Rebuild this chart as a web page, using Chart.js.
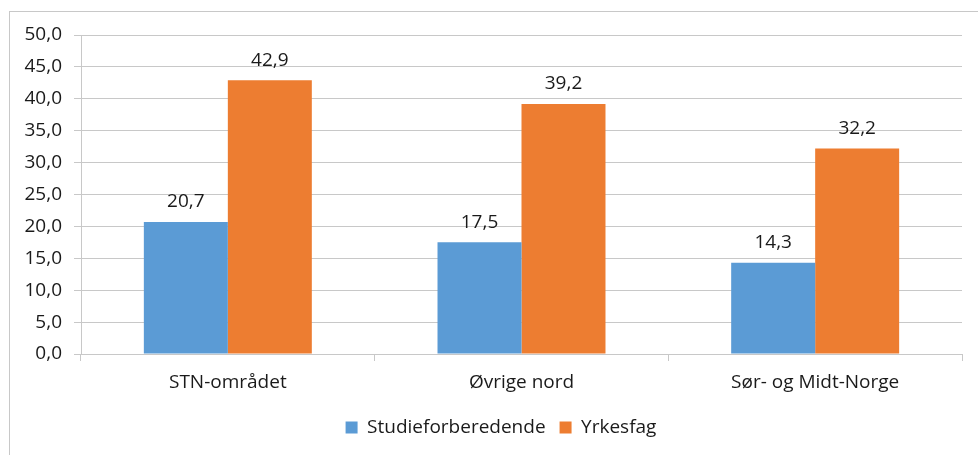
<!DOCTYPE html>
<html>
<head>
<meta charset="utf-8">
<script src="https://cdn.jsdelivr.net/npm/chart.js@4"></script>
<style>
  body { margin: 0; background: #fff; overflow: hidden; }
  #frame { position: absolute; left: 9px; top: 11px; width: 1000px; height: 500px;
           border-left: 1px solid #c8c8c8; border-top: 1px solid #c8c8c8; }
  #chart { position: absolute; left: 0; top: 0; }
</style>
</head>
<body>
<div id="frame"></div>
<canvas id="chart" width="978" height="455"></canvas>
<script>
const categories = ["STN-området", "Øvrige nord", "Sør- og Midt-Norge"];
const studieforberedende = [20.7, 17.5, 14.3];
const yrkesfag = [42.9, 39.2, 32.2];
const seriesNames = ["Studieforberedende", "Yrkesfag"];

const fmt = v => v.toFixed(1).replace(".", ",");

// value labels above each bar
const barLabels = {
    id: "barLabels",
    afterDatasetsDraw(chart) {
        const ctx = chart.ctx;
        ctx.save();
        ctx.font = "19px 'Open Sans'";
        ctx.fillStyle = "#1a1a1a";
        ctx.textAlign = "center";
        ctx.textBaseline = "middle";
        chart.data.datasets.forEach((ds, i) => {
            chart.getDatasetMeta(i).data.forEach((bar, j) => {
                ctx.fillText(fmt(ds.data[j]), bar.x, bar.y - 20);
            });
        });
        ctx.restore();
    }
};

// legend sits a bit right of centre in the original
const legendShift = {
    id: "legendShift",
    afterLayout(chart) {
        chart.legend.left += 20;
        chart.legend.right += 20;
    }
};

Chart.defaults.font.family = "'Open Sans'";
Chart.defaults.font.size = 19;
Chart.defaults.color = "#1a1a1a";

new Chart(document.getElementById("chart").getContext("2d"), {
    type: "bar",
    data: {
        labels: categories,
        datasets: [{
            label: seriesNames[0],
            data: studieforberedende,
            backgroundColor: "#5b9bd5"
        }, {
            label: seriesNames[1],
            data: yrkesfag,
            backgroundColor: "#ed7d31"
        }]
    },
    options: {
        responsive: false,
        animation: false,
        devicePixelRatio: 1,
        categoryPercentage: 0.572,
        barPercentage: 1,
        layout: { padding: { top: 35, right: 16, bottom: 8, left: 0 } },
        plugins: {
            tooltip: { enabled: false },
            legend: {
                position: "bottom",
                labels: { boxWidth: 12, boxHeight: 12, padding: 14 }
            }
        },
        scales: {
            x: {
                afterFit: s => { s.height = 50; },
                grid: { drawOnChartArea: false, tickLength: 7, color: "#c8c8c8" },
                border: { color: "#c8c8c8" },
                ticks: { padding: 10 }
            },
            y: {
                min: 0,
                max: 50,
                afterFit: s => { s.width = 81; },
                grid: { tickLength: 7, color: "#c8c8c8" },
                border: { color: "#c8c8c8" },
                ticks: { stepSize: 5, padding: 12, callback: v => fmt(v) }
            }
        }
    },
    plugins: [barLabels, legendShift]
});
</script>
</body>
</html>
